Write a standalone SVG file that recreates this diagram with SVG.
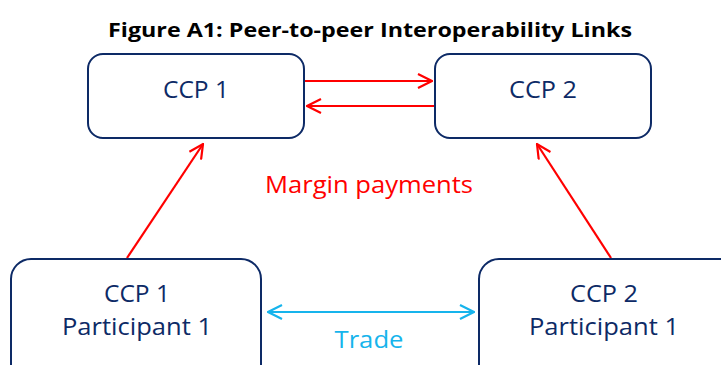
<svg xmlns="http://www.w3.org/2000/svg" width="721" height="365" viewBox="0 0 721 365">
<style>
.box{fill:#fff;stroke:#0d2a66;stroke-width:2}
.lbl{font-family:"Open Sans","Liberation Sans",sans-serif;font-size:24px;fill:#0d2a66;text-anchor:middle}
.red{stroke:#ff0000;stroke-width:2.2;fill:none}
.blue{stroke:#16b4ec;stroke-width:2.2;fill:none}
</style>
<defs>
<marker id="ar" viewBox="0 0 16 16" refX="15" refY="8" markerWidth="16" markerHeight="16" markerUnits="userSpaceOnUse" orient="auto">
<path d="M1,1 L15,8 L1,15" fill="none" stroke="#ff0000" stroke-width="2.2"/>
</marker>
<marker id="ab" viewBox="0 0 16 16" refX="15" refY="8" markerWidth="16" markerHeight="16" markerUnits="userSpaceOnUse" orient="auto-start-reverse">
<path d="M1,1 L15,8 L1,15" fill="none" stroke="#16b4ec" stroke-width="2.2"/>
</marker>
</defs>
<rect width="721" height="365" fill="#fff"/>
<text x="370" y="37" text-anchor="middle" font-family="'Open Sans','Liberation Sans',sans-serif" font-weight="bold" font-size="20" textLength="524" lengthAdjust="spacingAndGlyphs" fill="#000">Figure A1: Peer-to-peer Interoperability Links</text>
<g id="connectors">
<line class="red" x1="304" y1="81" x2="432" y2="81" marker-end="url(#ar)"/>
<line class="red" x1="435" y1="106" x2="307" y2="106" marker-end="url(#ar)"/>
<line class="red" x1="127" y1="258" x2="203" y2="144" marker-end="url(#ar)"/>
<line class="red" x1="611" y1="258" x2="537" y2="144" marker-end="url(#ar)"/>
<line class="blue" x1="268" y1="312" x2="474" y2="312" marker-start="url(#ab)" marker-end="url(#ab)"/>
<text x="369" y="193" text-anchor="middle" font-family="'Open Sans','Liberation Sans',sans-serif" font-size="24" textLength="208" lengthAdjust="spacingAndGlyphs" fill="#ff0000">Margin payments</text>
<text x="369" y="348" text-anchor="middle" font-family="'Open Sans','Liberation Sans',sans-serif" font-size="24" textLength="69" lengthAdjust="spacingAndGlyphs" fill="#16b4ec">Trade</text>
</g>
<g id="ccp1">
<rect class="box" x="88" y="54" width="216" height="84" rx="15"/>
<text class="lbl" x="196" y="98" textLength="66" lengthAdjust="spacingAndGlyphs">CCP 1</text>
</g>
<g id="ccp2">
<rect class="box" x="435" y="54" width="216" height="84" rx="15"/>
<text class="lbl" x="543" y="98" textLength="68" lengthAdjust="spacingAndGlyphs">CCP 2</text>
</g>
<g id="p1">
<rect class="box" x="11" y="259" width="250" height="125" rx="20"/>
<text class="lbl" x="137" y="302" textLength="66" lengthAdjust="spacingAndGlyphs">CCP 1</text>
<text class="lbl" x="137" y="335" textLength="150" lengthAdjust="spacingAndGlyphs">Participant 1</text>
</g>
<g id="p2">
<rect class="box" x="479" y="259" width="260" height="125" rx="20"/>
<text class="lbl" x="604" y="302" textLength="68" lengthAdjust="spacingAndGlyphs">CCP 2</text>
<text class="lbl" x="604" y="335" textLength="150" lengthAdjust="spacingAndGlyphs">Participant 1</text>
</g>
</svg>
